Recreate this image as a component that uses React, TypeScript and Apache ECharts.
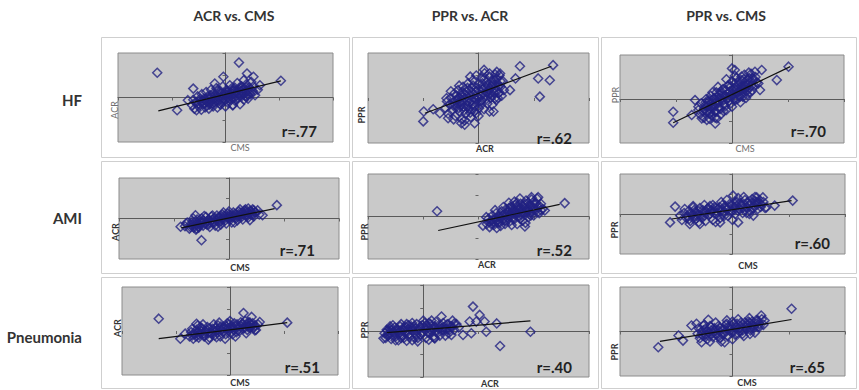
import React, { useEffect, useRef } from "react";
import * as echarts from "echarts";

const colTitles = ["ACR vs. CMS", "PPR vs. ACR", "PPR vs. CMS"];
const rowLabels = ["HF", "AMI", "Pneumonia"];
const xNames = ["CMS", "ACR", "CMS"];
const yNames = ["ACR", "PPR", "PPR"];
const rValues = [
  ["r=.77", "r=.62", "r=.70"],
  ["r=.71", "r=.52", "r=.60"],
  ["r=.51", "r=.40", "r=.65"],
];

// HF
const hfAcrCms = [
  [-1.27, 1.11], [0.25, 1.57], [1.03, 0.75], [-0.9, -0.57], [-0.7, -0.12], [0.4, 1.08], [0.52, 0.93], [0.34, 0.78],
  [-0.04, 0.93], [-0.2, 0.63], [-0.6, 0.4], [0.39, 0.03], [0.52, 0.25], [0.14, -0.34], [-0.54, -0.57],
  [-0.62, -0.35], [-0.6, -0.1], [-0.58, -0.5], [-0.55, -0.25], [-0.52, 0.05], [-0.5, -0.4], [-0.48, -0.15], [-0.45, -0.55],
  [-0.44, 0.15], [-0.42, -0.3], [-0.4, -0.05], [-0.38, -0.45], [-0.36, 0.25], [-0.35, -0.2], [-0.33, 0.05], [-0.31, -0.5],
  [-0.3, -0.32], [-0.28, 0.1], [-0.27, 0.35], [-0.25, -0.12], [-0.23, -0.4], [-0.22, 0.2], [-0.2, -0.25], [-0.18, 0.0],
  [-0.17, 0.42], [-0.15, -0.45], [-0.14, 0.15], [-0.12, -0.15], [-0.1, 0.3], [-0.09, -0.32], [-0.07, 0.05], [-0.05, 0.5],
  [-0.04, -0.2], [-0.02, 0.2], [0.0, -0.4], [0.02, 0.35], [0.03, 0.0], [0.05, -0.25], [0.07, 0.15], [0.08, 0.55],
  [0.1, -0.1], [0.12, 0.3], [0.13, -0.35], [0.15, 0.05], [0.17, 0.45], [0.18, -0.15], [0.2, 0.22], [0.22, 0.65],
  [0.23, -0.05], [0.25, 0.35], [0.27, -0.3], [0.28, 0.1], [0.3, 0.5], [0.32, 0.2], [0.34, -0.1], [0.35, 0.4],
  [0.37, 0.05], [0.39, 0.6], [0.4, 0.28], [0.42, -0.05], [0.44, 0.45], [0.46, 0.15], [0.48, 0.7], [0.5, 0.3],
  [0.52, 0.5], [0.55, 0.1], [0.6, 0.35], [0.64, 0.55],
  [-0.55, -0.2], [-0.5, -0.28], [-0.47, -0.05], [-0.43, -0.18], [-0.4, -0.28], [-0.37, -0.1], [-0.34, -0.35], [-0.32, -0.08],
  [-0.29, -0.22], [-0.26, 0.0], [-0.24, -0.28], [-0.21, -0.05], [-0.19, 0.1], [-0.16, -0.18], [-0.13, 0.02], [-0.11, -0.28],
  [-0.08, 0.18], [-0.06, -0.08], [-0.03, 0.08], [-0.01, -0.12], [0.01, 0.12], [0.04, 0.25], [0.06, -0.02], [0.09, 0.12],
  [0.11, 0.4], [0.14, 0.18], [0.16, -0.02], [0.19, 0.3], [0.21, 0.08], [0.24, 0.2], [0.26, 0.45], [0.29, 0.3],
  [0.31, 0.08], [0.33, 0.35], [0.36, 0.22], [0.38, 0.45], [0.41, 0.12], [0.43, 0.32], [-0.15, 0.28], [0.0, 0.1],
  [-0.3, -0.05], [0.15, 0.3],
];
const hfPprAcr = [
  [-0.99, -0.6], [-1.0, -1.04], [-0.82, -0.5], [-0.7, -0.68], [-0.58, -0.01], [-0.55, -0.9], [-0.31, -1.12], [-0.25, -1.19],
  [-0.07, -1.12], [-0.04, -0.68], [0.27, -0.6], [0.3, -0.01], [0.57, 0.35], [0.75, 1.41], [0.67, 0.87], [1.08, 0.87],
  [1.29, 0.79], [1.11, 0.06], [1.35, 1.46], [0.33, 1.16], [0.39, 1.09], [0.2, 1.09],
  [-0.6, -0.45], [-0.57, -0.15], [-0.55, -0.7], [-0.52, -0.3], [-0.5, 0.0], [-0.48, -0.55], [-0.46, -0.2], [-0.44, 0.2],
  [-0.42, -0.8], [-0.4, -0.4], [-0.38, -0.05], [-0.37, 0.35], [-0.35, -0.6], [-0.33, -0.2], [-0.31, 0.15], [-0.3, -0.95],
  [-0.28, 0.5], [-0.27, -0.4], [-0.25, 0.0], [-0.23, -0.7], [-0.22, 0.3], [-0.2, -0.15], [-0.19, 0.65], [-0.17, -0.5],
  [-0.16, 0.1], [-0.14, -0.85], [-0.13, 0.45], [-0.11, -0.3], [-0.1, 0.8], [-0.08, 0.0], [-0.07, -0.6], [-0.05, 0.3],
  [-0.04, 1.0], [-0.02, -0.2], [0.0, 0.6], [0.01, -0.45], [0.03, 0.15], [0.05, 0.9], [0.06, -0.1], [0.08, 0.4],
  [0.1, -0.5], [0.11, 1.1], [0.13, 0.1], [0.15, 0.7], [0.16, -0.25], [0.18, 0.35], [0.2, 0.95], [0.22, 0.0],
  [0.23, 0.55], [0.25, -0.3], [0.27, 0.25], [0.28, 0.8], [0.3, 0.45], [0.32, -0.1], [0.34, 0.65], [0.36, 0.2],
  [0.38, 1.0], [0.4, 0.5], [0.42, 0.1], [0.44, 0.75], [0.46, 0.35], [-0.45, -0.95], [-0.35, 0.55], [-0.15, 0.95],
  [0.0, -0.8], [0.2, -0.6], [-0.25, -1.0], [0.1, 1.25], [0.3, 1.05], [-0.5, 0.3], [-0.1, 0.55], [0.05, -0.3],
  [-0.3, 0.25], [0.15, 0.25], [-0.2, -0.4], [0.25, 0.6], [-0.05, -0.05], [0.35, 0.0],
  [-0.45, -0.35], [-0.42, -0.1], [-0.39, -0.25], [-0.36, -0.45], [-0.34, 0.0], [-0.32, -0.35], [-0.29, -0.15], [-0.26, -0.55],
  [-0.24, 0.15], [-0.21, -0.3], [-0.18, 0.0], [-0.16, -0.2], [-0.14, 0.3], [-0.12, -0.1], [-0.09, 0.15], [-0.06, -0.35],
  [-0.04, 0.45], [-0.01, 0.05], [0.02, 0.3], [0.04, -0.15], [0.07, 0.65], [0.09, 0.2], [0.12, 0.5], [0.14, -0.05],
  [0.17, 0.55], [0.19, 0.15], [0.21, 0.4], [0.24, 0.75], [0.26, 0.1], [0.29, 0.6], [0.31, 0.3], [0.33, 0.85],
  [0.35, 0.5], [0.38, 0.25], [0.4, 0.75], [-0.2, 0.45], [0.0, 0.0], [-0.3, 0.05], [0.1, 0.85], [-0.1, -0.5],
  [0.2, 0.2], [-0.4, 0.1], [0.05, 0.45], [-0.15, -0.65],
];
const hfPprCms = [
  [-1.05, -0.58], [-1.05, -1.08], [-0.72, -0.73], [-0.66, -0.05], [-0.6, -0.5], [-0.54, -0.88], [-0.3, -1.11], [-0.27, -0.88],
  [-0.39, -0.65], [0.0, 1.39], [0.05, 1.32], [0.41, 1.24], [0.53, 1.32], [0.8, 0.86], [1.01, 1.47], [0.5, 0.41],
  [0.47, 0.71], [0.17, 1.02],
  [-0.6, -0.35], [-0.57, -0.7], [-0.55, -0.2], [-0.52, -0.55], [-0.5, -0.85], [-0.48, -0.3], [-0.46, 0.0], [-0.44, -0.6],
  [-0.42, -0.15], [-0.4, -0.45], [-0.38, 0.15], [-0.36, -0.75], [-0.34, -0.3], [-0.32, 0.05], [-0.3, -0.55], [-0.28, 0.3],
  [-0.26, -0.1], [-0.24, -0.4], [-0.22, 0.2], [-0.2, -0.7], [-0.18, 0.0], [-0.16, 0.45], [-0.14, -0.25], [-0.12, 0.15],
  [-0.1, -0.5], [-0.08, 0.6], [-0.06, 0.05], [-0.04, 0.35], [-0.02, -0.2], [0.0, 0.8], [0.02, 0.2], [0.04, 0.5],
  [0.06, -0.05], [0.08, 0.95], [0.1, 0.3], [0.12, 0.65], [0.14, 0.1], [0.16, 0.45], [0.18, 0.85], [0.2, 0.25],
  [0.22, 1.1], [0.24, 0.6], [0.26, 0.35], [0.28, 0.9], [0.3, 0.5], [0.32, 0.75], [0.34, 1.15], [0.36, 0.4],
  [0.38, 0.85], [0.4, 0.6], [0.42, 1.0], [0.44, 0.75], [-0.45, -0.95], [-0.25, 0.55], [-0.1, 0.9], [0.05, 1.05],
  [0.15, -0.15], [-0.35, 0.3], [0.25, 0.05], [-0.15, -0.55], [0.0, -0.35], [-0.05, 0.65], [0.1, 0.0], [-0.2, 0.35],
  [0.3, 1.2], [-0.3, -0.85], [0.2, 0.6], [-0.4, -0.9],
  [-0.5, -0.45], [-0.47, -0.15], [-0.45, -0.55], [-0.43, -0.3], [-0.41, -0.05], [-0.39, -0.6], [-0.37, -0.2], [-0.35, -0.45],
  [-0.33, 0.0], [-0.31, -0.3], [-0.29, -0.6], [-0.27, 0.1], [-0.25, -0.2], [-0.23, 0.05], [-0.21, -0.45], [-0.19, 0.25],
  [-0.17, -0.1], [-0.15, 0.15], [-0.13, -0.35], [-0.11, 0.4], [-0.09, 0.0], [-0.07, 0.25], [-0.05, -0.1], [-0.03, 0.55],
  [-0.01, 0.1], [0.01, 0.4], [0.03, 0.0], [0.05, 0.7], [0.07, 0.25], [0.09, 0.5], [0.11, 0.15], [0.13, 0.8],
  [0.15, 0.35], [0.17, 0.6], [0.19, 0.1], [0.21, 0.9], [0.23, 0.45], [0.25, 0.7], [0.27, 0.2], [0.29, 0.65],
  [0.31, 0.95], [0.33, 0.3], [0.35, 0.6], [0.37, 0.95], [-0.2, 0.0], [0.0, 0.25], [0.2, 0.5], [-0.3, -0.15],
];

// AMI
const amiAcrCms = [
  [-0.88, -0.41], [0.87, 0.66], [-0.5, -1.07], [-0.59, -0.49], [-0.61, 0.16], [0.61, 0.16], [0.38, -0.08], [0.35, 0.49],
  [-0.78, -0.25],
  [-0.8, -0.38], [-0.76, -0.2], [-0.72, -0.5], [-0.7, -0.3], [-0.66, -0.15], [-0.64, -0.45], [-0.6, -0.28], [-0.58, -0.05],
  [-0.55, -0.4], [-0.52, -0.18], [-0.5, 0.0], [-0.47, -0.35], [-0.45, -0.12], [-0.42, 0.08], [-0.4, -0.3], [-0.37, -0.05],
  [-0.35, -0.42], [-0.32, 0.1], [-0.3, -0.2], [-0.27, 0.0], [-0.25, -0.35], [-0.22, 0.15], [-0.2, -0.12], [-0.17, 0.05],
  [-0.15, -0.3], [-0.12, 0.2], [-0.1, -0.05], [-0.07, 0.1], [-0.05, -0.25], [-0.02, 0.25], [0.0, 0.0], [0.03, 0.15],
  [0.05, -0.2], [0.08, 0.3], [0.1, 0.05], [0.13, 0.2], [0.15, -0.1], [0.18, 0.35], [0.2, 0.1], [0.23, 0.25],
  [0.25, -0.05], [0.28, 0.4], [0.3, 0.15], [0.33, 0.3], [0.35, 0.05], [0.38, 0.38], [0.4, 0.2], [0.43, 0.45],
  [0.45, 0.1], [0.48, 0.3], [0.52, 0.4], [0.55, 0.2], [-0.6, -0.55], [-0.3, 0.15], [-0.1, 0.3], [0.1, -0.2],
  [0.3, 0.45], [-0.45, 0.12], [0.0, 0.35], [-0.2, -0.4], [0.2, 0.45], [-0.65, 0.0],
  [-0.7, -0.42], [-0.67, -0.28], [-0.63, -0.35], [-0.6, -0.15], [-0.57, -0.32], [-0.53, -0.28], [-0.5, -0.2], [-0.47, -0.1],
  [-0.43, -0.25], [-0.4, -0.15], [-0.37, -0.3], [-0.33, -0.12], [-0.3, -0.05], [-0.27, -0.22], [-0.23, -0.08], [-0.2, 0.05],
  [-0.17, -0.18], [-0.13, -0.02], [-0.1, 0.12], [-0.07, -0.1], [-0.03, 0.05], [0.0, 0.18], [0.03, -0.05], [0.07, 0.12],
  [0.1, 0.22], [0.13, 0.02], [0.17, 0.15], [0.2, 0.28], [0.23, 0.08], [0.27, 0.2], [0.3, 0.32], [0.33, 0.12],
  [0.37, 0.25], [0.4, 0.35], [0.43, 0.18], [0.47, 0.3], [-0.55, -0.45], [-0.35, -0.2], [-0.15, 0.12], [0.05, 0.08],
  [0.25, 0.3], [0.45, 0.4],
];
const amiPprAcr = [
  [-0.75, 0.25], [1.56, 0.63], [1.2, 0.28], [0.84, -0.47], [0.33, -0.54], [0.08, -0.43], [0.14, -0.03], [1.08, 0.91],
  [0.96, 0.91],
  [0.15, -0.35], [0.18, -0.1], [0.2, -0.5], [0.23, -0.2], [0.25, 0.05], [0.28, -0.4], [0.3, -0.15], [0.32, 0.15],
  [0.35, -0.3], [0.37, 0.0], [0.4, -0.45], [0.42, 0.25], [0.44, -0.15], [0.46, 0.1], [0.48, -0.35], [0.5, 0.35],
  [0.52, -0.05], [0.54, 0.2], [0.56, -0.25], [0.58, 0.45], [0.6, 0.05], [0.62, 0.3], [0.64, -0.15], [0.66, 0.55],
  [0.68, 0.15], [0.7, -0.35], [0.72, 0.35], [0.74, 0.0], [0.76, 0.6], [0.78, 0.2], [0.8, -0.2], [0.82, 0.45],
  [0.84, 0.1], [0.86, 0.75], [0.88, 0.3], [0.9, -0.05], [0.92, 0.55], [0.94, 0.2], [0.96, 0.8], [0.98, 0.4],
  [1.0, 0.05], [1.02, 0.6], [1.04, 0.3], [1.06, 0.85], [1.08, 0.45], [1.1, 0.15], [1.13, 0.6], [1.16, 0.35],
  [0.3, 0.3], [0.55, 0.65], [0.75, 0.85], [0.6, -0.4], [0.45, 0.45], [0.85, -0.3], [0.95, 0.05], [0.65, 0.7],
  [0.4, 0.05], [0.7, 0.5], [0.5, -0.2], [0.9, 0.65], [0.8, 0.35], [0.6, 0.2],
  [0.2, -0.25], [0.23, -0.35], [0.26, -0.15], [0.29, -0.28], [0.32, -0.05], [0.35, -0.18], [0.38, -0.3], [0.41, -0.05],
  [0.44, 0.05], [0.47, -0.2], [0.5, 0.1], [0.53, 0.25], [0.56, 0.0], [0.59, 0.15], [0.62, -0.05], [0.65, 0.3],
  [0.68, 0.05], [0.71, 0.2], [0.74, 0.4], [0.77, 0.1], [0.8, 0.25], [0.83, 0.55], [0.86, 0.2], [0.89, 0.4],
  [0.92, 0.1], [0.95, 0.5], [0.98, 0.25], [1.01, 0.4], [1.04, 0.65], [1.07, 0.2], [1.1, 0.5], [1.13, 0.3],
  [0.55, 0.4], [0.7, 0.65], [0.85, 0.6], [1.0, 0.7], [0.75, -0.1], [0.6, 0.45], [0.9, 0.3], [0.65, 0.15],
];
const amiPprCms = [
  [-1.11, -0.42], [-1.02, 0.37], [1.07, 0.67], [0.75, 0.42], [0.43, 0.83], [0.54, 0.83], [0.01, 0.92], [0.1, -0.42],
  [-0.22, -0.42], [-0.58, -0.5], [-0.76, -0.5], [-0.93, -0.08], [-0.85, 0.25], [-0.7, 0.33], [0.6, 0.33], [0.37, -0.08],
  [-0.9, -0.3], [-0.86, 0.05], [-0.82, -0.2], [-0.78, 0.15], [-0.75, -0.35], [-0.72, -0.05], [-0.68, 0.2], [-0.65, -0.25],
  [-0.62, 0.0], [-0.58, 0.3], [-0.55, -0.2], [-0.52, 0.1], [-0.48, -0.35], [-0.45, 0.25], [-0.42, -0.05], [-0.38, 0.15],
  [-0.35, -0.3], [-0.32, 0.35], [-0.28, 0.0], [-0.25, 0.25], [-0.22, -0.2], [-0.18, 0.45], [-0.15, 0.1], [-0.12, 0.3],
  [-0.08, -0.1], [-0.05, 0.5], [-0.02, 0.15], [0.02, 0.35], [0.05, 0.0], [0.08, 0.6], [0.12, 0.25], [0.15, 0.45],
  [0.18, 0.05], [0.22, 0.7], [0.25, 0.35], [0.28, 0.55], [0.32, 0.15], [0.35, 0.75], [0.38, 0.4], [0.42, 0.6],
  [0.45, 0.25], [0.48, 0.7], [0.52, 0.45], [0.55, 0.6], [0.58, 0.3], [-0.7, 0.4], [-0.4, 0.4], [-0.1, 0.7],
  [0.2, 0.85], [0.0, -0.3], [-0.3, -0.4], [0.3, 0.0], [-0.6, -0.4], [0.1, 0.8], [-0.2, 0.6], [0.4, 0.85],
  [-0.5, 0.45],
  [-0.8, -0.1], [-0.77, -0.25], [-0.73, 0.05], [-0.7, -0.15], [-0.67, 0.1], [-0.63, -0.1], [-0.6, 0.15], [-0.57, -0.05],
  [-0.53, 0.2], [-0.5, -0.1], [-0.47, 0.1], [-0.43, 0.3], [-0.4, 0.0], [-0.37, 0.2], [-0.33, 0.05], [-0.3, 0.3],
  [-0.27, 0.1], [-0.23, 0.35], [-0.2, 0.15], [-0.17, 0.0], [-0.13, 0.4], [-0.1, 0.2], [-0.07, 0.35], [-0.03, 0.1],
  [0.0, 0.45], [0.03, 0.2], [0.07, 0.4], [0.1, 0.15], [0.13, 0.55], [0.17, 0.3], [0.2, 0.5], [0.23, 0.2],
  [0.27, 0.6], [0.3, 0.4], [0.33, 0.55], [0.37, 0.3], [0.4, 0.65], [0.43, 0.45], [0.47, 0.55], [0.5, 0.35],
  [-0.35, 0.45], [0.05, 0.6], [-0.15, -0.1], [0.25, 0.05],
];

// Pneumonia
const pnAcrCms = [
  [-1.32, 0.56], [1.06, 0.38], [-0.92, -0.35], [-0.83, -0.12], [0.25, 0.82], [0.4, 0.64], [0.55, 0.41], [0.46, 0.03],
  [-0.62, 0.33], [-0.09, -0.35],
  [-0.75, -0.25], [-0.72, -0.05], [-0.68, -0.35], [-0.65, -0.15], [-0.62, 0.05], [-0.58, -0.3], [-0.55, -0.1], [-0.52, 0.12],
  [-0.48, -0.25], [-0.45, -0.02], [-0.42, 0.18], [-0.38, -0.3], [-0.35, -0.08], [-0.32, 0.1], [-0.28, -0.2], [-0.25, 0.02],
  [-0.22, 0.25], [-0.18, -0.25], [-0.15, 0.05], [-0.12, 0.2], [-0.08, -0.15], [-0.05, 0.1], [-0.02, 0.3], [0.02, -0.1],
  [0.05, 0.15], [0.08, 0.35], [0.12, -0.05], [0.15, 0.2], [0.18, 0.0], [0.22, 0.3], [0.25, 0.1], [0.28, 0.45],
  [0.32, 0.05], [0.35, 0.25], [0.38, 0.15], [0.42, 0.35], [0.45, 0.2], [0.48, 0.05], [0.52, 0.3], [-0.6, 0.25],
  [-0.3, 0.3], [0.0, 0.45], [-0.4, -0.4], [0.1, -0.25], [-0.7, 0.1], [0.3, -0.1], [-0.2, 0.38], [0.2, 0.4],
  [-0.5, 0.3],
  [-0.7, -0.2], [-0.67, -0.1], [-0.63, -0.25], [-0.6, -0.05], [-0.57, -0.18], [-0.53, 0.0], [-0.5, -0.12], [-0.47, -0.22],
  [-0.43, 0.05], [-0.4, -0.1], [-0.37, 0.12], [-0.33, -0.15], [-0.3, 0.0], [-0.27, 0.15], [-0.23, -0.08], [-0.2, 0.1],
  [-0.17, 0.2], [-0.13, -0.05], [-0.1, 0.12], [-0.07, 0.22], [-0.03, 0.0], [0.0, 0.15], [0.03, 0.25], [0.07, 0.05],
  [0.1, 0.2], [0.13, 0.3], [0.17, 0.1], [0.2, 0.22], [0.23, 0.35], [0.27, 0.15], [0.3, 0.3], [0.33, 0.2],
  [0.37, 0.38], [0.4, 0.25], [0.43, 0.12], [0.47, 0.25], [-0.55, 0.18], [-0.25, -0.28], [0.05, -0.15], [0.35, 0.4],
  [-0.05, 0.35],
];
const pnPprAcr = [
  [0.9, 1.06], [1.02, 0.7], [0.96, 0.41], [1.11, 0.41], [0.84, 0.41], [1.33, 0.33], [1.14, -0.03], [1.39, -0.65],
  [1.94, -0.03], [0.72, -0.17], [0.87, -0.1], [0.51, -0.17], [-0.72, -0.32], [0.21, -0.32], [0.33, 0.63],
  [-0.7, -0.1], [-0.68, -0.3], [-0.66, 0.05], [-0.63, -0.2], [-0.6, 0.1], [-0.58, -0.35], [-0.55, -0.05], [-0.52, 0.15],
  [-0.5, -0.25], [-0.47, 0.0], [-0.45, -0.4], [-0.42, 0.2], [-0.4, -0.15], [-0.37, 0.05], [-0.35, -0.3], [-0.32, 0.18],
  [-0.3, -0.08], [-0.27, 0.25], [-0.25, -0.25], [-0.22, 0.05], [-0.2, -0.4], [-0.17, 0.2], [-0.15, -0.1], [-0.12, 0.3],
  [-0.1, -0.3], [-0.07, 0.1], [-0.05, -0.15], [-0.02, 0.25], [0.0, -0.05], [0.03, 0.35], [0.05, -0.3], [0.08, 0.15],
  [0.1, -0.1], [0.13, 0.3], [0.15, 0.0], [0.18, -0.25], [0.2, 0.2], [0.23, 0.4], [0.25, 0.0], [0.28, 0.25],
  [0.3, -0.2], [0.33, 0.12], [0.36, 0.35], [0.4, 0.05], [0.43, 0.28], [0.46, -0.1], [0.5, 0.2], [0.53, 0.45],
  [0.56, 0.05], [0.6, 0.3], [0.64, 0.15], [-0.6, 0.2], [-0.4, 0.3], [-0.2, 0.35], [0.0, 0.45], [-0.5, -0.4],
  [-0.3, -0.42], [-0.1, -0.45], [0.1, -0.38], [-0.65, -0.2], [0.4, -0.2], [-0.35, 0.05], [0.15, 0.45],
  [-0.65, 0.0], [-0.62, -0.12], [-0.58, 0.05], [-0.55, -0.2], [-0.52, -0.05], [-0.48, 0.1], [-0.45, -0.12], [-0.42, 0.02],
  [-0.38, -0.2], [-0.35, 0.15], [-0.32, -0.05], [-0.28, 0.08], [-0.25, -0.12], [-0.22, 0.2], [-0.18, 0.0], [-0.15, 0.12],
  [-0.12, -0.15], [-0.08, 0.05], [-0.05, 0.2], [-0.02, -0.1], [0.02, 0.1], [0.05, 0.25], [0.08, -0.05], [0.12, 0.08],
  [0.15, 0.22], [0.18, 0.05], [0.22, 0.15], [0.25, -0.1], [0.28, 0.1], [0.32, 0.25], [0.35, 0.0], [0.38, 0.18],
  [0.42, 0.1], [0.45, 0.3], [0.48, 0.05], [0.52, 0.2], [0.56, 0.32], [-0.55, 0.25], [-0.3, 0.3], [0.1, 0.35],
  [-0.4, -0.3], [0.2, -0.3], [-0.15, -0.3],
];
const pnPprCms = [
  [-1.32, -0.71], [1.05, 1.02], [-0.96, -0.18], [-0.88, -0.41], [-0.73, 0.27], [-0.64, 0.35], [-0.43, 0.53], [-0.55, -0.48],
  [-0.14, -0.48], [0.51, 0.72], [0.57, 0.5], [0.31, -0.11], [-0.52, 0.27],
  [-0.62, -0.1], [-0.58, -0.3], [-0.55, 0.0], [-0.52, -0.2], [-0.48, 0.12], [-0.45, -0.35], [-0.42, -0.05], [-0.38, 0.2],
  [-0.35, -0.25], [-0.32, 0.05], [-0.28, -0.12], [-0.25, 0.25], [-0.22, -0.3], [-0.18, 0.1], [-0.15, -0.1], [-0.12, 0.3],
  [-0.08, -0.2], [-0.05, 0.15], [-0.02, -0.05], [0.02, 0.35], [0.05, -0.15], [0.08, 0.2], [0.12, 0.0], [0.15, 0.4],
  [0.18, -0.1], [0.22, 0.25], [0.25, 0.1], [0.28, 0.45], [0.32, 0.05], [0.35, 0.3], [0.38, 0.15], [0.42, 0.5],
  [0.45, 0.2], [0.48, 0.35], [0.52, 0.55], [0.55, 0.3], [-0.5, 0.3], [-0.3, 0.4], [-0.1, 0.5], [0.1, 0.55],
  [-0.4, -0.45], [-0.2, -0.45], [0.0, -0.35], [0.2, -0.2], [0.3, 0.6], [-0.6, 0.15], [0.4, -0.05],
  [-0.55, -0.12], [-0.52, 0.05], [-0.48, -0.15], [-0.45, 0.0], [-0.42, -0.2], [-0.38, 0.05], [-0.35, -0.08], [-0.32, 0.15],
  [-0.28, -0.15], [-0.25, 0.05], [-0.22, 0.15], [-0.18, -0.1], [-0.15, 0.1], [-0.12, 0.0], [-0.08, 0.2], [-0.05, 0.05],
  [-0.02, 0.25], [0.02, 0.0], [0.05, 0.18], [0.08, 0.35], [0.12, 0.12], [0.15, 0.25], [0.18, 0.05], [0.22, 0.4],
  [0.25, 0.2], [0.28, 0.3], [0.32, 0.15], [0.35, 0.45], [0.38, 0.25], [0.42, 0.35], [0.45, 0.5], [0.48, 0.2],
  [-0.4, 0.25], [-0.1, 0.35], [0.1, -0.1], [0.3, 0.4], [-0.25, -0.25], [0.0, 0.45],
];

// regression lines (endpoints)
const fitHfAcrCms = [[-1.25, -0.6], [1.03, 0.75]];
const fitHfPprAcr = [[-0.97, -0.68], [1.32, 1.41]];
const fitHfPprCms = [[-1.05, -1.08], [1.04, 1.47]];
const fitAmiAcrCms = [[-0.87, -0.46], [0.83, 0.49]];
const fitAmiPprAcr = [[-0.73, -0.66], [1.47, 0.57]];
const fitAmiPprCms = [[-1.08, -0.25], [1.05, 0.67]];
const fitPnAcrCms = [[-1.32, -0.35], [1.06, 0.38]];
const fitPnPprAcr = [[-0.66, -0.07], [1.94, 0.44]];
const fitPnPprCms = [[-1.29, -0.44], [1.05, 0.54]];

const pointSets = [hfAcrCms, hfPprAcr, hfPprCms, amiAcrCms, amiPprAcr, amiPprCms, pnAcrCms, pnPprAcr, pnPprCms];
const fitSets = [fitHfAcrCms, fitHfPprAcr, fitHfPprCms, fitAmiAcrCms, fitAmiPprAcr, fitAmiPprCms, fitPnAcrCms, fitPnPprAcr, fitPnPprCms];
const xRanges = [[-2, 2], [-2, 2], [-2, 2], [-2, 2], [-2, 2], [-2, 2], [-2, 2], [-1, 3], [-2, 2]];

// layout (pixels)
const panels = [
  { g: [118, 53, 215, 89], xl: true, yl: true, xn: [240, 147], yn: [114, 110], r: [317, 131], light: true },
  { g: [368, 53, 221, 90], xl: false, yl: true, xn: [485, 148], yn: [361, 115], r: [572, 138], light: false },
  { g: [620, 55, 224, 88], xl: true, yl: true, xn: [745, 148], yn: [615, 95], r: [826, 131], light: true },
  { g: [119, 178, 220, 81], xl: true, yl: true, xn: [240, 267], yn: [115, 232], r: [315, 250], light: false },
  { g: [368, 174, 221, 85], xl: true, yl: false, xn: [487, 264], yn: [364, 232], r: [572, 250], light: false },
  { g: [620, 174, 225, 80], xl: true, yl: true, xn: [748, 265], yn: [614, 230], r: [830, 243], light: false },
  { g: [122, 287, 216, 88], xl: false, yl: true, xn: [240, 382], yn: [117, 328], r: [320, 367], light: false },
  { g: [368, 285, 221, 92], xl: true, yl: true, xn: [490, 383], yn: [364, 330], r: [572, 367], light: false },
  { g: [620, 287, 225, 89], xl: true, yl: true, xn: [747, 382], yn: [614, 352], r: [825, 367], light: false },
];
const boxCols = [[101, 248], [352, 246], [601, 255]];
const boxRows = [[37, 120], [161, 112], [277, 111]];
const titleX = [234, 470, 726];
const rowY = [100, 218, 337];

const FONT = "Lato, 'Open Sans', sans-serif";

export default function App() {
  const ref = useRef<HTMLDivElement>(null);
  useEffect(() => {
    if (!ref.current) return;
    const chart = echarts.init(ref.current, undefined, { renderer: "svg" });
    const grids: any[] = [];
    const xAxes: any[] = [];
    const yAxes: any[] = [];
    const series: any[] = [];
    const graphics: any[] = [];

    boxRows.forEach(([y, h]) =>
      boxCols.forEach(([x, w]) =>
        graphics.push({
          type: "rect",
          z: -10,
          shape: { x: x + 0.5, y: y + 0.5, width: w, height: h },
          style: { fill: "#ffffff", stroke: "#cfcfcf", lineWidth: 1 },
        })
      )
    );
    colTitles.forEach((t, i) =>
      graphics.push({
        type: "text",
        z: 20,
        x: titleX[i],
        y: 15,
        style: { text: t, font: `bold 14px ${FONT}`, fill: "#333333", align: "center", verticalAlign: "middle" },
      })
    );
    rowLabels.forEach((t, i) =>
      graphics.push({
        type: "text",
        z: 20,
        x: 82,
        y: rowY[i],
        style: { text: t, font: `bold 15px ${FONT}`, fill: "#333333", align: "right", verticalAlign: "middle" },
      })
    );

    panels.forEach((p, i) => {
      const row = Math.floor(i / 3);
      const col = i % 3;
      grids.push({
        left: p.g[0],
        top: p.g[1],
        width: p.g[2],
        height: p.g[3],
        show: true,
        backgroundColor: "#c9c9c9",
        borderColor: "#8c8c8c",
        borderWidth: 1,
        z: 0,
      });
      const axisCommon = {
        type: "value",
        gridIndex: i,
        interval: 1,
        splitLine: { show: false },
        axisLabel: { show: false },
        axisTick: { show: true, length: 3, lineStyle: { color: "#666" } },
      };
      xAxes.push({
        ...axisCommon,
        min: xRanges[i][0],
        max: xRanges[i][1],
        axisLine: { show: p.xl, onZero: true, lineStyle: { color: "#5a5a5a", width: 1 } },
      });
      yAxes.push({
        ...axisCommon,
        min: -2,
        max: 2,
        axisLine: { show: p.yl, onZero: true, lineStyle: { color: "#5a5a5a", width: 1 } },
      });
      series.push({
        type: "scatter",
        xAxisIndex: i,
        yAxisIndex: i,
        data: pointSets[i],
        symbol: "diamond",
        symbolSize: 9,
        itemStyle: { color: "rgba(0,0,0,0)", borderColor: "#222282", borderWidth: 1.5 },
        z: 2,
        silent: true,
      });
      series.push({
        type: "line",
        xAxisIndex: i,
        yAxisIndex: i,
        data: fitSets[i],
        symbol: "none",
        lineStyle: { color: "#111111", width: 1.2 },
        z: 3,
        silent: true,
      });
      const nameFont = p.light ? `9px ${FONT}` : `bold 9px ${FONT}`;
      const nameColor = p.light ? "#6e6e6e" : "#333333";
      graphics.push({
        type: "text",
        z: 20,
        x: p.xn[0],
        y: p.xn[1],
        style: { text: xNames[col], font: nameFont, fill: nameColor, align: "center", verticalAlign: "middle" },
      });
      graphics.push({
        type: "text",
        z: 20,
        x: p.yn[0],
        y: p.yn[1],
        rotation: Math.PI / 2,
        style: { text: yNames[col], font: nameFont, fill: nameColor, align: "center", verticalAlign: "middle" },
      });
      graphics.push({
        type: "text",
        z: 20,
        x: p.r[0],
        y: p.r[1],
        style: { text: rValues[row][col], font: `bold 15px ${FONT}`, fill: "#222222", align: "right", verticalAlign: "middle" },
      });
    });

    chart.setOption({
      animation: false,
      backgroundColor: "#ffffff",
      grid: grids,
      xAxis: xAxes,
      yAxis: yAxes,
      series,
      graphic: { elements: graphics },
    });
    return () => chart.dispose();
  }, []);
  return (
    <div
      ref={ref}
      style={{ position: "absolute", left: 0, top: 0, width: 859, height: 390, background: "#fff" }}
    />
  );
}
